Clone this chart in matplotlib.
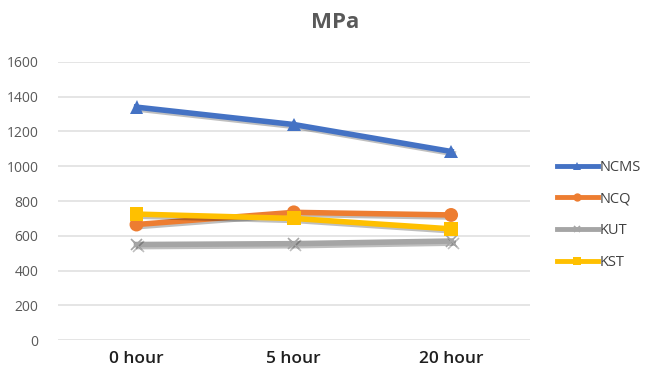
import matplotlib
matplotlib.use("Agg")
import matplotlib.pyplot as plt
import matplotlib.patheffects as pe

categories = ["0 hour", "5 hour", "20 hour"]
ncms = [1340, 1240, 1085]
ncq = [665, 735, 720]
kut = [550, 555, 570]
kst = [725, 700, 640]

series = [
    ("NCMS", ncms, "#4472C4", "^"),
    ("NCQ", ncq, "#ED7D31", "o"),
    ("KUT", kut, "#A5A5A5", "x"),
    ("KST", kst, "#FFC000", "s"),
]

plt.rcParams["font.family"] = ["Open Sans", "DejaVu Sans"]

fig = plt.figure(figsize=(6.5, 3.73), dpi=100)
ax = fig.add_axes([0.089, 0.088, 0.726, 0.746])

x = list(range(len(categories)))
shadow = [pe.SimpleLineShadow(offset=(1.5, -1.5), alpha=0.25), pe.Normal()]

for name, vals, color, marker in series:
    ax.plot(
        x, vals,
        color=color,
        lw=4,
        marker=marker,
        markersize=10 if marker != "x" else 8,
        markeredgewidth=1.2 if marker == "x" else 0,
        label=name,
        path_effects=shadow,
    )

ax.set_xlim(-0.5, 2.5)
ax.set_ylim(0, 1600)
ax.set_yticks(range(0, 1601, 200))
ax.set_xticks(x)
ax.set_xticklabels(categories, fontsize=12.5, color="#1F1F1F", fontweight="semibold")
ax.tick_params(axis="y", labelsize=10, colors="#595959", length=0, pad=14)
ax.tick_params(axis="x", length=0, pad=8)

ax.grid(axis="y", color="#E0E0E0", lw=1.2)
ax.set_axisbelow(True)
for s in ax.spines.values():
    s.set_visible(False)

fig.text(0.515, 0.94, "MPa", ha="center", va="center",
         fontsize=16, fontweight="bold", color="#595959")

leg = ax.legend(
    loc="center left",
    bbox_to_anchor=(1.03, 0.45),
    frameon=False,
    fontsize=10.5,
    markerscale=0.6,
    handlelength=2.8,
    handletextpad=0.1,
    labelspacing=1.15,
    labelcolor="#404040",
)
for h in leg.legend_handles:
    h.set_path_effects([])
    h.set_linewidth(3.5)

fig.savefig("out.png", dpi=100)
